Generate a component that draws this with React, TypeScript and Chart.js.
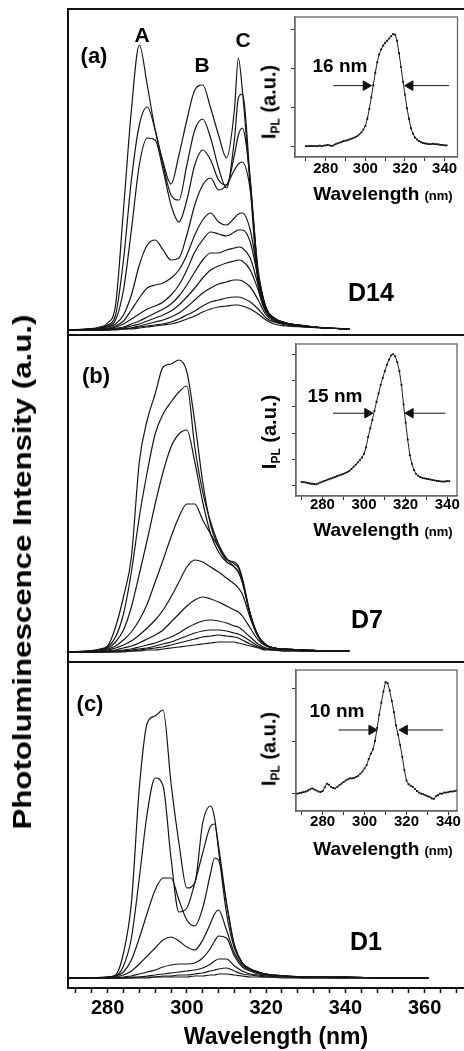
import React, { useEffect, useRef } from "react";
import { Chart, registerables } from "chart.js";

Chart.register(...registerables);

const FONT = '"Liberation Sans", Arial, Helvetica, sans-serif';

// ---------------- main panels: wavelength grid (nm) ----------------
const wavelengthAB = [270, 275, 278, 280, 282, 284, 286, 288, 290, 292, 294, 296, 298, 300, 302, 304, 306, 308, 310, 312, 313, 314, 316, 318, 320, 322, 325, 330, 335, 341];

// (a) D14 spectra (a.u.)
const d14Spectra = [
  [0, 1, 3, 7, 25, 120, 220, 285, 245, 200, 168, 146, 175, 210, 240, 245, 222, 195, 172, 220, 272, 240, 143, 45, 18, 11, 7, 4, 2, 1],
  [0, 1, 2, 5, 15, 70, 150, 205, 223, 200, 165, 135, 130, 165, 200, 211, 192, 162, 142, 190, 232, 236, 150, 50, 18, 11, 7, 4, 2, 1],
  [0, 1, 2, 4, 10, 40, 100, 165, 192, 190, 160, 125, 108, 130, 165, 180, 170, 150, 145, 175, 195, 202, 150, 55, 20, 11, 7, 4, 2, 1],
  [0, 1, 1, 3, 6, 15, 35, 65, 85, 90, 80, 70, 72, 95, 125, 145, 152, 140, 145, 160, 166, 168, 140, 60, 22, 12, 7, 4, 2, 1],
  [0, 0, 1, 2, 4, 9, 20, 32, 42, 45, 47, 52, 60, 75, 95, 110, 117, 108, 105, 112, 116, 117, 100, 55, 22, 12, 7, 4, 2, 1],
  [0, 0, 1, 1, 3, 6, 11, 16, 21, 24, 28, 35, 45, 60, 78, 90, 98, 96, 94, 98, 100, 100, 88, 52, 22, 12, 7, 4, 2, 1],
  [0, 0, 0, 1, 2, 3, 6, 9, 13, 17, 21, 26, 34, 45, 58, 70, 77, 77, 80, 82, 83, 82, 72, 45, 20, 11, 7, 4, 2, 1],
  [0, 0, 0, 1, 1, 2, 4, 6, 9, 12, 15, 19, 25, 33, 42, 52, 60, 64, 67, 69, 70, 69, 60, 40, 18, 10, 6, 4, 2, 1],
  [0, 0, 0, 0, 1, 1, 2, 4, 6, 8, 10, 13, 17, 23, 30, 37, 42, 46, 48, 50, 50, 49, 43, 30, 15, 9, 6, 3, 2, 1],
  [0, 0, 0, 0, 1, 1, 2, 3, 4, 5, 6, 8, 11, 15, 19, 24, 28, 30, 32, 33, 33, 32, 28, 21, 12, 8, 5, 3, 2, 1],
  [0, 0, 0, 0, 0, 1, 1, 2, 3, 4, 5, 6, 8, 11, 14, 18, 21, 23, 24, 25, 25, 24, 21, 16, 10, 6, 4, 3, 2, 1],
];

// (b) D7 spectra (a.u.)
const d7Spectra = [
  [0, 1, 3, 6, 25, 55, 95, 190, 232, 258, 285, 288, 292, 280, 230, 170, 127, 105, 92, 90, 86, 74, 38, 16, 7, 4, 3, 2, 1, 1],
  [0, 1, 2, 5, 15, 38, 80, 135, 180, 218, 238, 250, 260, 266, 205, 160, 130, 108, 94, 88, 84, 72, 38, 16, 7, 4, 3, 2, 1, 1],
  [0, 1, 2, 4, 10, 22, 45, 78, 112, 148, 180, 205, 218, 222, 190, 150, 118, 100, 90, 85, 80, 70, 38, 16, 7, 4, 3, 2, 1, 1],
  [0, 1, 1, 3, 6, 12, 20, 32, 48, 70, 92, 115, 135, 148, 148, 132, 118, 105, 93, 85, 80, 70, 37, 16, 7, 4, 3, 2, 1, 1],
  [0, 0, 1, 2, 4, 7, 11, 17, 24, 32, 42, 55, 70, 85, 92, 90, 85, 80, 74, 68, 64, 58, 34, 15, 7, 4, 3, 2, 1, 1],
  [0, 0, 0, 1, 2, 4, 6, 9, 13, 17, 22, 30, 38, 46, 52, 55, 53, 50, 46, 42, 40, 36, 24, 12, 6, 4, 3, 2, 1, 1],
  [0, 0, 0, 1, 1, 2, 3, 5, 7, 9, 12, 15, 19, 24, 28, 31, 32, 31, 29, 26, 25, 22, 15, 8, 4, 3, 2, 1, 1, 1],
  [0, 0, 0, 0, 1, 1, 2, 3, 4, 6, 8, 10, 13, 16, 19, 21, 22, 22, 21, 19, 18, 16, 11, 6, 3, 2, 2, 1, 1, 1],
  [0, 0, 0, 0, 0, 1, 1, 2, 3, 4, 5, 7, 9, 11, 13, 15, 16, 17, 16, 15, 14, 12, 8, 5, 3, 2, 1, 1, 1, 1],
  [0, 0, 0, 0, 0, 0, 1, 1, 2, 2, 3, 4, 5, 6, 7, 8, 9, 10, 10, 10, 9, 8, 6, 4, 2, 2, 1, 1, 1, 1],
];

// (c) D1 spectra (a.u.)
const wavelengthD1 = [270, 275, 280, 282, 284, 286, 288, 290, 292, 294, 296, 298, 300, 302, 304, 306, 307, 308, 310, 312, 314, 316, 318, 320, 325, 330, 340, 350, 361];
const d1Spectra = [
  [0, 0, 1, 3, 25, 75, 190, 255, 262, 268, 195, 135, 90, 95, 155, 172, 160, 128, 65, 30, 15, 9, 6, 4, 2, 1, 1, 0, 0],
  [0, 0, 1, 2, 12, 40, 100, 165, 200, 192, 120, 66, 70, 95, 125, 152, 154, 132, 75, 32, 15, 9, 6, 4, 2, 1, 1, 0, 0],
  [0, 0, 1, 2, 6, 18, 40, 65, 88, 100, 100, 78, 58, 52, 70, 105, 120, 118, 75, 33, 15, 9, 6, 4, 2, 1, 1, 0, 0],
  [0, 0, 0, 1, 3, 7, 14, 22, 30, 38, 41, 37, 31, 28, 38, 55, 64, 68, 48, 25, 13, 8, 5, 3, 2, 1, 1, 0, 0],
  [0, 0, 0, 0, 1, 2, 4, 6, 8, 11, 13, 14, 14, 15, 20, 30, 37, 42, 40, 22, 11, 7, 4, 3, 2, 1, 1, 0, 0],
  [0, 0, 0, 0, 0, 1, 1, 2, 3, 4, 5, 6, 7, 8, 10, 14, 17, 19, 19, 12, 7, 4, 3, 2, 1, 1, 0, 0, 0],
  [0, 0, 0, 0, 0, 0, 1, 1, 1, 2, 2, 3, 3, 4, 5, 7, 8, 9, 10, 7, 4, 3, 2, 1, 1, 0, 0, 0, 0],
  [0, 0, 0, 0, 0, 0, 0, 0, 1, 1, 1, 1, 1, 2, 2, 3, 3, 4, 4, 3, 2, 1, 1, 1, 0, 0, 0, 0, 0],
];

const mainTickLabels = [280, 300, 320, 340, 360];

// ---------------- insets ----------------
const insetWavelengthAB = [
  270, 271, 272, 273, 274, 275, 276, 277, 278, 279,
  280, 281, 282, 283, 284, 285, 286, 287, 288, 289,
  290, 291, 292, 293, 294, 295, 296, 297, 298, 299,
  300, 301, 302, 303, 304, 305, 306, 307, 308, 309,
  310, 311, 312, 313, 314, 315, 316, 317, 318, 319,
  320, 321, 322, 323, 324, 325, 326, 327, 328, 329,
  330, 331, 332, 333, 334, 335, 336, 337, 338, 339,
  340, 341,
];
const insetD14 = [
  0.0, 0.0, 0.0, 0.0, 0.0, 0.0, 0.0, 0.01, 0.0, 0.01,
  0.02, 0.03, 0.02, 0.0, 0.02, 0.05, 0.07, 0.09, 0.1, 0.13,
  0.14, 0.15, 0.17, 0.19, 0.21, 0.23, 0.26, 0.3, 0.35, 0.42,
  0.52, 0.7, 0.95, 1.25, 1.56, 1.88, 2.15, 2.35, 2.48, 2.58,
  2.65, 2.7, 2.76, 2.82, 2.87, 2.86, 2.7, 2.38, 2.03, 1.65,
  1.32, 0.97, 0.7, 0.46, 0.32, 0.22, 0.17, 0.13, 0.1, 0.08,
  0.07, 0.06, 0.05, 0.05, 0.06, 0.05, 0.05, 0.04, 0.03, 0.03,
  0.02, 0.02,
];
const insetD7 = [
  0.12, 0.11, 0.1, 0.08, 0.06, 0.05, 0.04, 0.03, 0.06, 0.1,
  0.13, 0.16, 0.19, 0.22, 0.25, 0.28, 0.31, 0.34, 0.37, 0.4,
  0.43, 0.46, 0.5, 0.55, 0.62, 0.7, 0.78, 0.87, 0.96, 1.06,
  1.2, 1.45, 1.85, 2.18, 2.5, 2.85, 3.2, 3.52, 3.85, 4.12,
  4.38, 4.62, 4.82, 4.98, 5.03, 4.95, 4.72, 4.38, 3.85, 3.1,
  2.4, 1.75, 1.15, 0.82, 0.58, 0.43, 0.36, 0.31, 0.28, 0.26,
  0.24, 0.23, 0.21, 0.19, 0.18, 0.16, 0.15, 0.14, 0.13, 0.14,
  0.15, 0.15,
];
const insetWavelengthD1 = [
  267, 268, 269, 270, 271, 272, 273, 274, 275, 276,
  277, 278, 279, 280, 281, 282, 283, 284, 285, 286,
  287, 288, 289, 290, 291, 292, 293, 294, 295, 296,
  297, 298, 299, 300, 301, 302, 303, 304, 305, 306,
  307, 308, 309, 310, 311, 312, 313, 314, 315, 316,
  317, 318, 319, 320, 321, 322, 323, 324, 325, 326,
  327, 328, 329, 330, 331, 332, 333, 334, 335, 336,
  337, 338, 339, 340, 341, 342, 343, 344,
];
const insetD1 = [
  0.0, 0.0, 0.01, 0.02, 0.03, 0.04, 0.06, 0.08, 0.1, 0.08,
  0.06, 0.04, 0.03, 0.05, 0.12, 0.19, 0.17, 0.13, 0.11, 0.1,
  0.13, 0.16, 0.19, 0.22, 0.25, 0.27, 0.29, 0.29, 0.3, 0.32,
  0.34, 0.38, 0.42, 0.48, 0.54, 0.66, 0.76, 0.84, 1.0, 1.25,
  1.5, 1.73, 1.94, 2.12, 2.1, 1.96, 1.76, 1.55, 1.3, 1.12,
  0.92, 0.7, 0.45, 0.25, 0.18, 0.15, 0.13, 0.09, 0.05, 0.02,
  0.0, -0.01, -0.03, -0.05, -0.06, -0.09, -0.1, -0.05, -0.03, 0.0,
  0.0, 0.02, 0.02, 0.03, 0.04, 0.04, 0.05, 0.06,
];
const insetTickLabels = [280, 300, 320, 340];

// FWHM arrows: [tail, head] wavelengths and the level
const fwhmD14 = { level: 1.55, left: [283.8, 300.3], right: [342.2, 322.6] };
const fwhmD7 = { level: 2.76, left: [285.1, 301.7], right: [339.1, 322.3] };
const fwhmD1 = { level: 1.21, left: [287.6, 303.4], right: [337.4, 319.1] };

// ---------------- plugins / builders ----------------
const framePlugin = {
  id: "frame",
  afterDraw(chart: any, _args: any, opts: any) {
    const { ctx, chartArea } = chart;
    if (!chartArea) return;
    ctx.save();
    ctx.strokeStyle = opts.color || "#000";
    ctx.lineWidth = opts.width || 1;
    ctx.strokeRect(chartArea.left, chartArea.top, chartArea.right - chartArea.left, chartArea.bottom - chartArea.top);
    ctx.restore();
  },
};

const MAIN_X_MIN = 270;
const MAIN_X_MAX = 375;

function panelConfig(wl: number[], curves: number[][], yMin: number, yMax: number, padTop: number, padBottom: number, showX: boolean): any {
  const xScale: any = showX
    ? {
        type: "linear",
        min: MAIN_X_MIN,
        max: MAIN_X_MAX,
        position: "bottom",
        afterFit: (s: any) => {
          s.height = 63;
        },
        border: { display: true, color: "#111", width: 2 },
        grid: { drawOnChartArea: false, drawTicks: true, tickLength: 5, tickColor: "#111", tickWidth: 1.5 },
        ticks: {
          stepSize: 4,
          autoSkip: false,
          maxRotation: 0,
          minRotation: 0,
          includeBounds: false,
          padding: 3,
          color: "#000",
          font: { family: FONT, size: 20, weight: "bold" },
          callback: (v: any) => (mainTickLabels.includes(Math.round(Number(v))) ? String(Math.round(Number(v))) : ""),
        },
        title: {
          display: true,
          text: "Wavelength (nm)",
          color: "#000",
          font: { family: FONT, size: 23, weight: "bold" },
          padding: { top: 0, bottom: 0 },
        },
      }
    : { type: "linear", min: MAIN_X_MIN, max: MAIN_X_MAX, display: false };
  return {
    type: "line",
    data: {
      datasets: curves.map((c) => ({
        data: wl.map((x, i) => ({ x, y: c[i] })),
        borderColor: "#151515",
        borderWidth: 1.2,
        pointRadius: 0,
        fill: false,
        cubicInterpolationMode: "monotone",
      })),
    },
    options: {
      responsive: false,
      animation: false,
      devicePixelRatio: 1,
      events: [],
      layout: { padding: { left: 68, right: 0, top: padTop, bottom: padBottom } },
      plugins: { legend: { display: false }, tooltip: { enabled: false }, frame: { color: "#111", width: 2 } },
      scales: {
        x: xScale,
        y: { type: "linear", min: yMin, max: yMax, display: false },
      },
    },
    plugins: [framePlugin],
  };
}

function insetConfig(
  wl: number[],
  vals: number[],
  xMin: number,
  xMax: number,
  yMin: number,
  yMax: number,
  fwhm: { level: number; left: number[]; right: number[] },
  pad: { left: number; right: number; top: number },
  xAxisHeight: number,
  tickPad: number
): any {
  const arrow = (pts: number[], rot: number) => ({
    data: pts.map((x) => ({ x, y: fwhm.level })),
    borderColor: "#111",
    borderWidth: 1,
    pointRadius: [0, 5.5],
    pointStyle: "triangle",
    pointRotation: [0, rot],
    pointBackgroundColor: "#111",
    pointBorderColor: "#111",
    pointBorderWidth: 1,
    fill: false,
  });
  return {
    type: "line",
    data: {
      datasets: [
        {
          data: wl.map((x, i) => ({ x, y: vals[i] })),
          borderColor: "#222",
          borderWidth: 1,
          pointStyle: "rect",
          pointRadius: 1.3,
          pointBackgroundColor: "#111",
          pointBorderColor: "#111",
          pointBorderWidth: 0,
          fill: false,
          tension: 0,
        },
        arrow(fwhm.left, 90),
        arrow(fwhm.right, -90),
      ],
    },
    options: {
      responsive: false,
      animation: false,
      devicePixelRatio: 1,
      events: [],
      layout: { padding: { left: pad.left, right: pad.right, top: pad.top, bottom: 0 } },
      plugins: { legend: { display: false }, tooltip: { enabled: false }, frame: { color: "#666", width: 1.3 } },
      scales: {
        x: {
          type: "linear",
          min: xMin,
          max: xMax,
          afterFit: (s: any) => {
            s.height = xAxisHeight;
          },
          border: { display: true, color: "#666", width: 1.3 },
          grid: { drawOnChartArea: false, tickLength: 4, tickColor: "#333", tickWidth: 1 },
          ticks: {
            stepSize: 10,
            autoSkip: false,
            maxRotation: 0,
            minRotation: 0,
            includeBounds: false,
            padding: tickPad,
            color: "#000",
            font: { family: FONT, size: 15, weight: "bold" },
            callback: (v: any) => (insetTickLabels.includes(Math.round(Number(v))) ? String(Math.round(Number(v))) : ""),
          },
        },
        y: {
          type: "linear",
          min: yMin,
          max: yMax,
          afterFit: (s: any) => {
            s.width = 4;
          },
          border: { display: true, color: "#666", width: 1.3 },
          grid: { drawOnChartArea: false, tickLength: 4, tickColor: "#333", tickWidth: 1 },
          ticks: { display: false, stepSize: 1, includeBounds: false },
        },
      },
    },
    plugins: [framePlugin],
  };
}

function ChartCanvas(props: { left: number; top: number; width: number; height: number; make: () => any }) {
  const ref = useRef<HTMLCanvasElement>(null);
  useEffect(() => {
    const chart = new Chart(ref.current as HTMLCanvasElement, props.make());
    return () => chart.destroy();
  }, []);
  return (
    <canvas
      ref={ref}
      width={props.width}
      height={props.height}
      style={{ position: "absolute", left: props.left, top: props.top, width: props.width, height: props.height }}
    />
  );
}

const txt = (x: number, y: number, size: number, extra: any = {}): any => ({
  position: "absolute",
  left: x,
  top: y,
  transform: "translate(-50%, -50%)",
  fontFamily: FONT,
  fontWeight: 700,
  fontSize: size,
  lineHeight: 1,
  whiteSpace: "nowrap",
  color: "#000",
  ...extra,
});

function InsetYTitle(props: { x: number; y: number }) {
  return (
    <div style={txt(props.x, props.y, 20, { transform: "translate(-50%, -50%) rotate(-90deg)" })}>
      I<sub style={{ fontSize: 12, verticalAlign: "-4px" }}>PL</sub> (a.u.)
    </div>
  );
}

function InsetXTitle(props: { x: number; y: number }) {
  return (
    <div style={txt(props.x, props.y, 19)}>
      Wavelength <span style={{ fontSize: 13 }}>(nm)</span>
    </div>
  );
}

// main canvas width: chart area from x=68 spanning 270..375 nm at ~3.96 px/nm
const MAIN_W = 484;

export default function App() {
  return (
    <div
      style={{
        position: "fixed",
        left: 0,
        top: 0,
        width: 464,
        height: 1051,
        overflow: "hidden",
        background: "#fff",
      }}
    >
      <ChartCanvas left={0} top={0} width={MAIN_W} height={340} make={() => panelConfig(wavelengthAB, d14Spectra, -5, 321, 9, 5, false)} />
      <ChartCanvas left={0} top={330} width={MAIN_W} height={340} make={() => panelConfig(wavelengthAB, d7Spectra, -10, 317, 5, 8, false)} />
      <ChartCanvas left={0} top={655} width={MAIN_W} height={396} make={() => panelConfig(wavelengthD1, d1Spectra, -10, 316, 7, 0, true)} />

      <ChartCanvas
        left={280}
        top={10}
        width={184}
        height={172}
        make={() => insetConfig(insetWavelengthAB, insetD14, 264.5, 346.5, -0.28, 3.31, fwhmD14, { left: 11, right: 5, top: 7 }, 25, -1)}
      />
      <ChartCanvas
        left={280}
        top={337}
        width={184}
        height={184}
        make={() => insetConfig(insetWavelengthAB, insetD7, 267.3, 344.7, -0.42, 5.42, fwhmD7, { left: 12, right: 7, top: 7 }, 25, -4)}
      />
      <ChartCanvas
        left={280}
        top={663}
        width={184}
        height={172}
        make={() => insetConfig(insetWavelengthD1, insetD1, 267.3, 344.1, -0.33, 2.35, fwhmD1, { left: 12, right: 7, top: 7 }, 24, -2)}
      />

      {/* main y title */}
      <div style={txt(22, 572, 26, { transform: "translate(-50%, -50%) rotate(-90deg) scaleX(1.2)" })}>
        Photoluminescence Intensity (a.u.)
      </div>

      {/* panel (a) */}
      <div style={txt(94, 56, 22)}>(a)</div>
      <div style={txt(142, 34, 21)}>A</div>
      <div style={txt(202, 64, 21)}>B</div>
      <div style={txt(243, 39, 21)}>C</div>
      <div style={txt(371, 292, 25)}>D14</div>
      <div style={txt(340, 65, 19)}>16 nm</div>
      <InsetYTitle x={270} y={102} />
      <InsetXTitle x={383} y={193} />

      {/* panel (b) */}
      <div style={txt(96, 376, 22)}>(b)</div>
      <div style={txt(367, 619, 25)}>D7</div>
      <div style={txt(335, 395, 19)}>15 nm</div>
      <InsetYTitle x={270} y={432} />
      <InsetXTitle x={383} y={529} />

      {/* panel (c) */}
      <div style={txt(90, 704, 22)}>(c)</div>
      <div style={txt(366, 941, 25)}>D1</div>
      <div style={txt(337, 710, 19)}>10 nm</div>
      <InsetYTitle x={270} y={749} />
      <InsetXTitle x={383} y={848} />
    </div>
  );
}
